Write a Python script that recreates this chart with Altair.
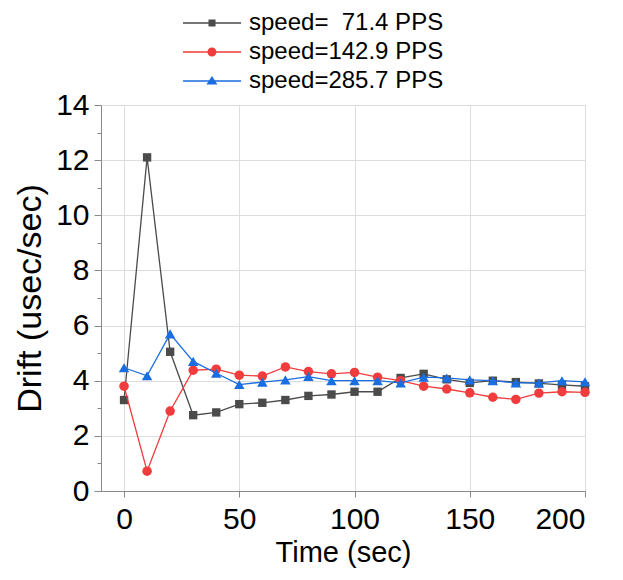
import altair as alt
import pandas as pd

# ---- data ----
times = [0, 10, 20, 30, 40, 50, 60, 70, 80, 90, 100, 110, 120, 130, 140, 150, 160, 170, 180, 190, 200]
names = ["speed=\u00a0\u00a071.4 PPS", "speed=142.9 PPS", "speed=285.7 PPS"]
drift_71 = [3.3, 12.1, 5.05, 2.75, 2.85, 3.15, 3.2, 3.3, 3.45, 3.5, 3.6, 3.6, 4.1, 4.25, 4.05, 3.92, 4.0, 3.95, 3.9, 3.85, 3.8]
drift_143 = [3.8, 0.72, 2.9, 4.38, 4.42, 4.2, 4.17, 4.5, 4.33, 4.25, 4.3, 4.13, 4.0, 3.8, 3.7, 3.56, 3.4, 3.32, 3.55, 3.6, 3.58]
drift_286 = [4.47, 4.18, 5.7, 4.7, 4.27, 3.86, 3.95, 4.03, 4.15, 4.0, 4.0, 4.0, 3.92, 4.13, 4.1, 4.03, 4.0, 3.92, 3.92, 4.0, 3.96]
series_values = [drift_71, drift_143, drift_286]
x_ticks = [0, 50, 100, 150, 200]
y_ticks = list(range(0, 15))

# ---- style ----
colors = ["#4b4b4b", "#f03c3c", "#1a6ee0"]
shapes = ["square", "circle", "triangle-up"]
sizes = [70, 90, 110]
# legend glyphs: unit = 15px, symbol centre sits 15px from legend left
_line = "M-1,-0.045H2.87V0.045H-1Z"
legend_paths = [
    _line + " M0.7,-0.24H1.17V0.24H0.7Z",
    _line + " M1.23,0 A0.3,0.3 0 1,1 0.63,0 A0.3,0.3 0 1,1 1.23,0 Z",
    _line + " M0.93,-0.33 L1.3,0.24 L0.56,0.24 Z",
]
FONT = "Liberation Sans"

x_enc = alt.X(
    "time:Q",
    scale=alt.Scale(domain=[-10, 200], nice=False, zero=False),
    axis=alt.Axis(
        title="Time (sec)", values=x_ticks, grid=True, tickSize=6,
        labelFontSize=30, titleFontSize=29, titleFontWeight="normal",
        titlePadding=4, labelPadding=7,
    ),
)
y_enc = alt.Y(
    "drift:Q",
    scale=alt.Scale(domain=[0, 14], nice=False),
    axis=alt.Axis(
        title="Drift (usec/sec)", values=y_ticks, grid=True,
        labelExpr="datum.value % 2 == 0 ? datum.label : ''",
        gridOpacity={"condition": {"test": "datum.value % 2 == 0", "value": 1}, "value": 0},
        tickSize={"condition": {"test": "datum.value % 2 == 0", "value": 7}, "value": 4},
        labelFontSize=30, titleFontSize=34, titleFontWeight="normal",
        titlePadding=8, labelPadding=5,
    ),
)

layers = []
for name, vals, c, shp, sz in zip(names, series_values, colors, shapes, sizes):
    df = pd.DataFrame({"time": times, "drift": vals, "series": name})
    base = alt.Chart(df)
    layers.append(base.mark_line(color=c, strokeWidth=1.3).encode(x=x_enc, y=y_enc))
    layers.append(
        base.mark_point(filled=True, opacity=1, color=c, shape=shp, size=sz, strokeWidth=0)
        .encode(x=x_enc, y=y_enc)
    )

# legend-only layer (points outside the visible domain, clipped)
leg_df = pd.DataFrame({"time": [-100] * 3, "drift": [1, 1, 1], "series": names})
leg_props = dict(
    title=None, orient="none", legendX=82, legendY=-97,
    labelFontSize=24, labelFont=FONT, labelLimit=0, symbolSize=900, symbolStrokeWidth=0,
    rowPadding=2, labelOffset=36, labelColor="black",
)
legend_layer = alt.Chart(leg_df).mark_point(filled=True, opacity=1, clip=True, size=900, strokeWidth=0).encode(
    x=x_enc, y=y_enc,
    color=alt.Color("series:N", scale=alt.Scale(domain=names, range=colors), legend=alt.Legend(**leg_props)),
    shape=alt.Shape("series:N", scale=alt.Scale(domain=names, range=legend_paths), legend=alt.Legend(**leg_props)),
)

chart = (
    alt.layer(*layers, legend_layer)
    .properties(
        width=484, height=386,
        autosize=alt.AutoSizeParams(type="none"),
        padding={"left": 93, "top": 97, "right": 30, "bottom": 81},
    )
    .configure_view(stroke="#333333", strokeWidth=1.5)
    .configure_axis(
        domainColor="#333333", domainWidth=1.5, tickColor="#333333", tickWidth=1.5,
        gridColor="#9a9a9a", gridWidth=1.2, labelColor="black", titleColor="black",
        labelFont=FONT, titleFont=FONT, titleFontWeight="normal",
    )
    .configure(background="white")
)

chart.save("out.html", embed_options={"renderer": "svg", "actions": False})
